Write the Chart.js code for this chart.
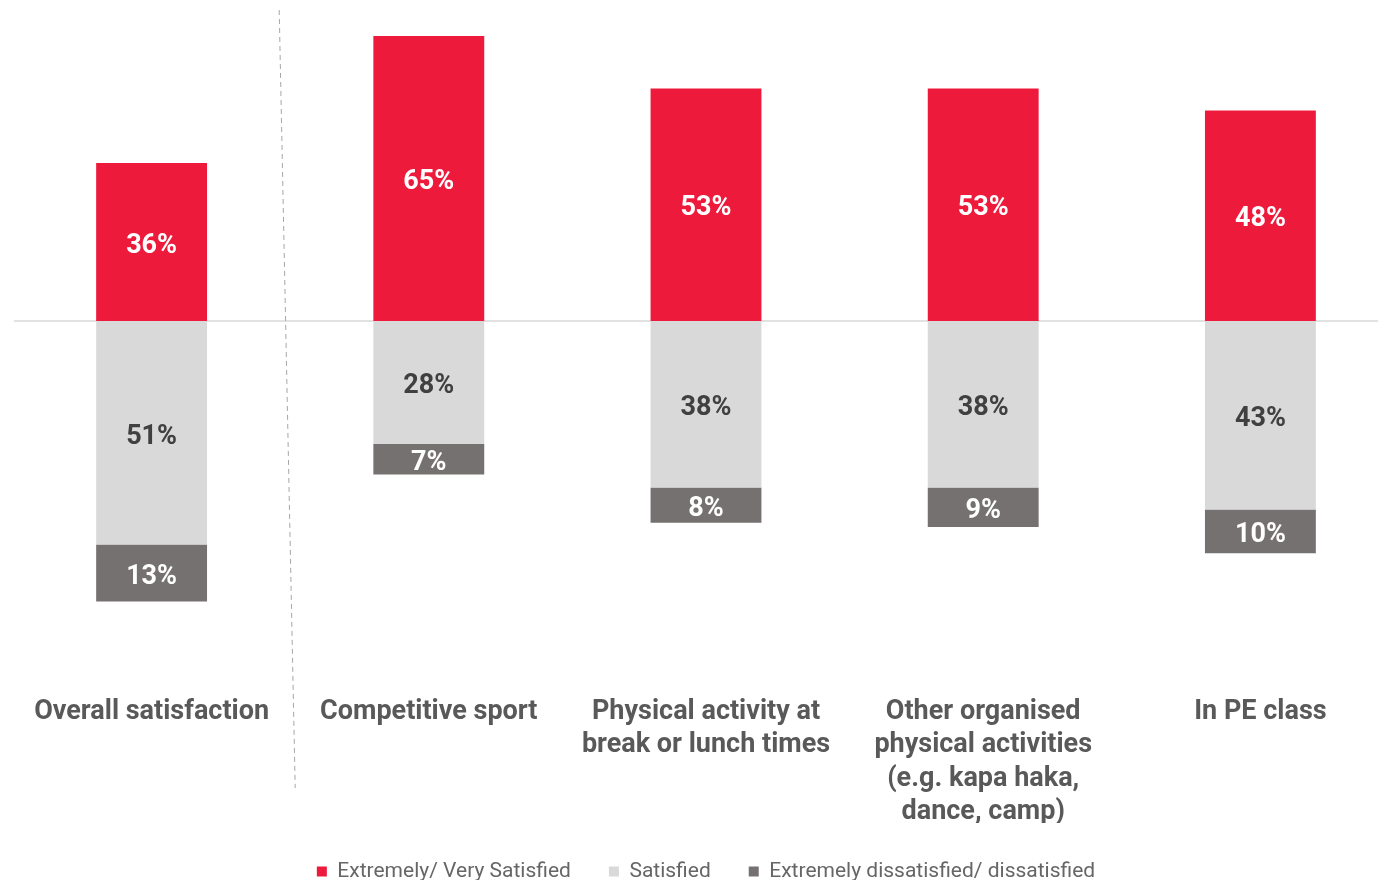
<!DOCTYPE html>
<html>
<head>
<meta charset="utf-8">
<script src="https://cdn.jsdelivr.net/npm/chart.js@4.4.1/dist/chart.umd.min.js"></script>
<style>
  html, body { margin: 0; padding: 0; background: #fff; overflow: hidden; }
  #wrap { width: 1400px; height: 892px; position: relative; }
</style>
</head>
<body>
<div id="wrap"><canvas id="c"></canvas></div>
<script>
const categories = [
  ["Overall satisfaction"],
  ["Competitive sport"],
  ["Physical activity at", "break or lunch times"],
  ["Other organised", "physical activities", "(e.g. kapa haka,", "dance, camp)"],
  ["In PE class"]
];
const seriesNames = ["Extremely/ Very Satisfied", "Satisfied", "Extremely dissatisfied/ dissatisfied"];
const verySatisfied = [36, 65, 53, 53, 48];
const satisfied = [-51, -28, -38, -38, -43];
const dissatisfied = [-13, -7, -8, -9, -10];

const colors = ["#ED1A3B", "#D9D9D9", "#767171"];
const labelColors = ["#FFFFFF", "#404040", "#FFFFFF"];
const FONT = "Roboto, 'Noto Sans', sans-serif";

const decoPlugin = {
  id: 'deco',
  beforeDatasetsDraw(chart) {
    const {ctx, chartArea, scales} = chart;
    const y0 = scales.y.getPixelForValue(0);
    ctx.save();
    ctx.strokeStyle = '#D9D9D9';
    ctx.lineWidth = 1.5;
    ctx.beginPath();
    ctx.moveTo(chartArea.left + 1, y0);
    ctx.lineTo(chartArea.right, y0);
    ctx.stroke();
    const xa = scales.x.getPixelForValue(0), xb = scales.x.getPixelForValue(1);
    const mid = (xa + xb) / 2;
    ctx.strokeStyle = '#A6A6A6';
    ctx.lineWidth = 1;
    ctx.setLineDash([5, 4]);
    ctx.beginPath();
    ctx.moveTo(mid - 11, 10);
    ctx.lineTo(mid + 5, 788);
    ctx.stroke();
    ctx.restore();
  },
  afterDatasetsDraw(chart) {
    const {ctx} = chart;
    ctx.save();
    ctx.font = "bold 27px " + FONT;
    ctx.textAlign = 'center';
    ctx.textBaseline = 'middle';
    chart.data.datasets.forEach((ds, di) => {
      const meta = chart.getDatasetMeta(di);
      meta.data.forEach((el, i) => {
        const v = ds.data[i];
        ctx.fillStyle = labelColors[di];
        ctx.fillText(Math.abs(v) + "%", el.x, (el.y + el.base) / 2 + 4);
      });
    });
    ctx.restore();
  }
};

new Chart(document.getElementById('c'), {
  type: 'bar',
  data: {
    labels: categories,
    datasets: [
      { label: seriesNames[0], data: verySatisfied, backgroundColor: colors[0] },
      { label: seriesNames[1], data: satisfied, backgroundColor: colors[1] },
      { label: seriesNames[2], data: dissatisfied, backgroundColor: colors[2] }
    ]
  },
  options: {
    responsive: true,
    maintainAspectRatio: false,
    animation: false,
    layout: { padding: { left: 13, right: 1, top: 14, bottom: 0 } },
    datasets: { bar: { barPercentage: 0.4, categoryPercentage: 1.0 } },
    scales: {
      x: {
        stacked: true,
        grid: { display: false, drawTicks: false },
        border: { display: false },
        ticks: {
          color: '#595959',
          font: { family: FONT, size: 27, weight: 'bold', lineHeight: 1.24 },
          padding: 8,
          maxRotation: 0,
          autoSkip: false
        },
        afterFit(scale) { scale.height -= 14; }
      },
      y: {
        stacked: true,
        display: false,
        min: -83.5,
        max: 70
      }
    },
    plugins: {
      legend: {
        position: 'bottom',
        labels: {
          boxWidth: 10,
          boxHeight: 10,
          padding: 38,
          color: '#666666',
          font: { family: FONT, size: 21 }
        }
      },
      tooltip: { enabled: false }
    }
  },
  plugins: [decoPlugin]
});
</script>
</body>
</html>
